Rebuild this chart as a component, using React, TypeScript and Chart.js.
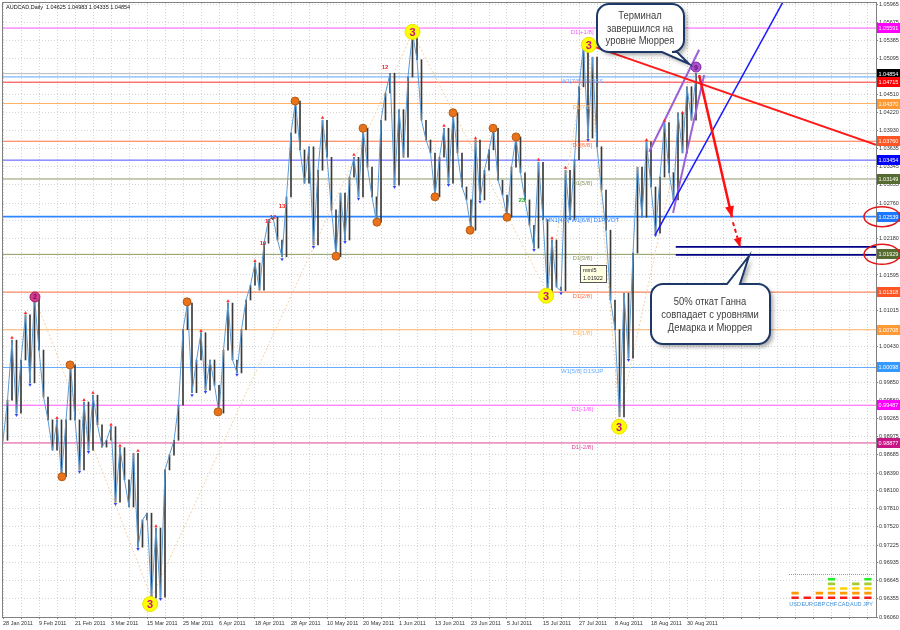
import React, { useEffect, useRef } from 'react';
import { Chart, registerables } from 'chart.js';

Chart.register(...registerables);

// ---------------- data ----------------
const symbolTitle = 'AUDCAD,Daily';
const headerOHLC = [1.04625, 1.04983, 1.04335, 1.04854];

const dateLabels = [
  '28 Jan 2011', '9 Feb 2011', '21 Feb 2011', '3 Mar 2011', '15 Mar 2011', '25 Mar 2011',
  '6 Apr 2011', '18 Apr 2011', '28 Apr 2011', '10 May 2011', '20 May 2011', '1 Jun 2011',
  '13 Jun 2011', '23 Jun 2011', '5 Jul 2011', '15 Jul 2011', '27 Jul 2011', '8 Aug 2011',
  '18 Aug 2011', '30 Aug 2011',
];
const dateLabelStep = 8;

const closes = [
  0.9892, 0.9957, 1.0054, 0.9936, 1.0022, 1.0095, 0.9985, 1.0124, 1.0038, 0.9962,
  0.9925, 0.9876, 0.9925, 0.9833, 0.9925, 1.0014, 0.9925, 0.9844, 0.9954, 0.9876,
  0.9965, 0.9917, 0.9881, 0.9892, 0.9914, 0.9792, 0.9880, 0.9828, 0.9784, 0.9871,
  0.9719, 0.9763, 0.9774, 0.9637, 0.9750, 0.9638, 0.9844, 0.9868, 0.9892, 0.9949,
  1.0071, 1.0114, 0.9969, 1.0022, 1.0066, 0.9973, 1.0022, 0.9981, 0.9936, 1.0038,
  1.0114, 1.0022, 1.0001, 1.0071, 1.0119, 1.0143, 1.0179, 1.0135, 1.0211, 1.0249,
  1.0253, 1.0216, 1.0189, 1.0286, 1.0389, 1.0441, 1.0362, 1.0308, 1.0367, 1.0208,
  1.0329, 1.0410, 1.0350, 1.0265, 1.0189, 1.0292, 1.0216, 1.0318, 1.0350, 1.0286,
  1.0397, 1.0334, 1.0286, 1.0245, 1.0410, 1.0454, 1.0486, 1.0305, 1.0427, 1.0350,
  1.0480, 1.0551, 1.0508, 1.0410, 1.0378, 1.0357, 1.0286, 1.0350, 1.0397, 1.0308,
  1.0422, 1.0357, 1.0302, 1.0281, 1.0232, 1.0378, 1.0281, 1.0329, 1.0362, 1.0397,
  1.0313, 1.0289, 1.0253, 1.0334, 1.0383, 1.0325, 1.0281, 1.0240, 1.0203, 1.0342,
  1.0249, 1.0130, 1.0216, 1.0140, 1.0134, 1.0329, 1.0249, 1.0346, 1.0464, 1.0532,
  1.0381, 1.0512, 1.0367, 1.0297, 1.0232, 1.0119, 1.0071, 0.9930, 1.0130, 1.0025,
  1.0195, 1.0334, 1.0253, 1.0375, 1.0302, 1.0227, 1.0318, 1.0406, 1.0325, 1.0281,
  1.0422, 1.0357, 1.0464, 1.0410, 1.04854,
];

const priceTicks = [
  1.05965, 1.05675, 1.05385, 1.05095, 1.04805, 1.04510, 1.04220, 1.03930, 1.03635,
  1.03345, 1.03055, 1.02760, 1.02470, 1.02180, 1.01885, 1.01595, 1.01305, 1.01015,
  1.00720, 1.00430, 1.00140, 0.99850, 0.99560, 0.99265, 0.98975, 0.98685, 0.98390,
  0.98100, 0.97810, 0.97520, 0.97225, 0.96935, 0.96645, 0.96355, 0.96060,
];

const levelValues = [
  1.05591, 1.04800, 1.04715, 1.04370, 1.03760, 1.03454, 1.03149, 1.02539,
  1.01929, 1.01318, 1.00708, 1.00098, 0.99487, 0.98877,
];
const levelNames = [
  'D1[+1/8]', 'W1[7/8] D1RES', '', 'D1[7/8]', 'D1[6/8]', '', 'D1[5/8]',
  'MN1[4/8] W1[6/8] D1PIVOT', 'D1[3/8]', 'D1[2/8]', 'D1[1/8]', 'W1[5/8] D1SUP',
  'D1[-1/8]', 'D1[-2/8]',
];
const levelLineColors = [
  '#ff55ff', '#66aaff', '#ff3030', '#ffb366', '#ff7040', '#5050ff', '#8c9a64',
  '#2f86ff', '#8c9a64', '#ff7040', '#ffb366', '#66aaff', '#ff55ff', '#dd4499',
];
const levelTagColors = [
  '#ff00ff', '#3399ff', '#ff0000', '#ff9933', '#ff5522', '#0000ff', '#556b2f',
  '#1e78ff', '#556b2f', '#ff5522', '#ff9933', '#3399ff', '#ff00ff', '#c71585',
];
const levelNameIndex = 128.7;
const circledLevels = [1.02539, 1.01929];

const currentPrice = 1.04854;
const navyLevels = [1.0205, 1.0192];
const navyStart = 149.5;

const redTrendX = [130.2, 194];
const redTrendY = [1.0532, 1.0370];
const blueTrendX = [144.9, 173.3];
const blueTrendY = [1.0224, 1.0601];
const purpleUpperX = [143.6, 154.7];
const purpleUpperY = [1.0359, 1.0524];
const purpleLowerX = [148.9, 155.8];
const purpleLowerY = [1.0260, 1.0483];
const redArrowX = [154.7, 162.0];
const redArrowY = [1.0483, 1.0253];
const dashArrowX = [162.2, 163.8];
const dashArrowY = [1.0245, 1.0205];

const zigzagX = [7, 33, 91, 121, 130, 137, 154];
const zigzagY = [1.0124, 0.9637, 1.0551, 1.0130, 1.0532, 0.9930, 1.0498];

const yellowX = [32.7, 91, 120.7, 130.2, 136.9];
const yellowY = [0.9627, 1.0553, 1.0126, 1.0532, 0.9914];
const pinkX = [7.1];
const pinkY = [1.0124];
const violetX = [154];
const violetY = [1.0496];

const orangeX = [13.1, 14.9, 40.9, 47.8, 64.9, 74, 80, 83.1, 96, 100, 103.8, 108.9, 112, 114];
const orangeY = [0.9833, 1.0014, 1.0116, 0.9938, 1.0441, 1.0190, 1.0397, 1.0245, 1.0286, 1.0422, 1.0232, 1.0397, 1.0253, 1.0383];

const highMarkX = [2, 5, 12, 18, 20, 24, 26, 30, 34, 44, 50, 56, 71, 78, 98, 105, 119, 122, 125, 143, 147, 151];
const highMarkY = [1.0058, 1.0098, 0.9928, 0.9957, 0.9969, 0.9917, 0.9883, 0.9875, 0.9753, 1.0069, 1.0117, 1.0182, 1.0414, 1.0354, 1.0401, 1.0381, 1.0346, 1.0219, 1.0333, 1.0378, 1.0409, 1.0422];
const lowMarkX = [3, 6, 17, 19, 25, 30, 35, 42, 45, 52, 62, 69, 76, 79, 87, 99, 106, 118, 124, 130, 139, 145];
const lowMarkY = [0.9933, 0.9982, 0.9841, 0.9873, 0.9789, 0.9716, 0.9635, 0.9965, 0.9970, 0.9998, 1.0185, 1.0205, 1.0213, 1.0283, 1.0302, 1.0305, 1.0278, 1.0200, 1.0130, 1.0378, 1.0022, 1.0224];

const countTexts = ['10', '11', '12', '13', '12'];
const countX = [57.8, 58.9, 60.0, 62.0, 84.9];
const countY = [1.0211, 1.0247, 1.0253, 1.0270, 1.0495];
const greenCountText = '23';
const greenCountX = 115.3;
const greenCountY = 1.0281;

const calloutTopLines = ['Терминал', 'завершился на', 'уровне Мюррея'];
const calloutBottomLines = ['50% откат Ганна', 'совпадает с уровнями', 'Демарка и Мюррея'];
const mmlLines = ['mml5', '1.01922'];

const meterCurrencies = ['USD', 'EUR', 'GBP', 'CHF', 'CAD', 'AUD', 'JPY'];
const meterLevels = [2, 1, 2, 5, 3, 4, 5];
const meterColors = ['#ff1a1a', '#ff9900', '#ffd000', '#a6cc33', '#22ee22'];

// ---------------- helpers ----------------
const FONT = '"Liberation Sans", Arial, sans-serif';

const pts = (xs: number[], ys: number[]) => xs.map((x, i) => ({ x, y: ys[i] }));

function lineDs(data: any[], color: string, width: number, order: number, extra: any = {}) {
  return {
    type: 'line', data, borderColor: color, backgroundColor: color, borderWidth: width,
    pointRadius: 0, tension: 0, fill: false, order, ...extra,
  };
}

function pointDs(data: any[], bg: string, border: string, radius: number, order: number, extra: any = {}) {
  return {
    type: 'line', data, showLine: false, pointRadius: radius, pointBackgroundColor: bg,
    pointBorderColor: border, pointBorderWidth: 1, order, ...extra,
  };
}

function arrowHead(ctx: any, x0: number, y0: number, x1: number, y1: number, len: number, half: number, color: string) {
  const a = Math.atan2(y1 - y0, x1 - x0);
  const bx = x1 - len * Math.cos(a);
  const by = y1 - len * Math.sin(a);
  ctx.beginPath();
  ctx.moveTo(x1, y1);
  ctx.lineTo(bx + half * Math.sin(a), by - half * Math.cos(a));
  ctx.lineTo(bx - half * Math.sin(a), by + half * Math.cos(a));
  ctx.closePath();
  ctx.fillStyle = color;
  ctx.fill();
}

function callout(ctx: any, box: number[], r: number, tail: number[], side: 'top' | 'bottom', lines: string[], cx: number, y0: number, dy: number) {
  const [x0, yT, x1, yB] = box;
  const [b1, b2, tx, ty] = tail;
  ctx.save();
  ctx.beginPath();
  ctx.moveTo(x0 + r, yT);
  if (side === 'top') { ctx.lineTo(b1, yT); ctx.lineTo(tx, ty); ctx.lineTo(b2, yT); }
  ctx.lineTo(x1 - r, yT);
  ctx.arcTo(x1, yT, x1, yT + r, r);
  ctx.lineTo(x1, yB - r);
  ctx.arcTo(x1, yB, x1 - r, yB, r);
  if (side === 'bottom') { ctx.lineTo(b2, yB); ctx.lineTo(tx, ty); ctx.lineTo(b1, yB); }
  ctx.lineTo(x0 + r, yB);
  ctx.arcTo(x0, yB, x0, yB - r, r);
  ctx.lineTo(x0, yT + r);
  ctx.arcTo(x0, yT, x0 + r, yT, r);
  ctx.closePath();
  ctx.shadowColor = 'rgba(0,0,0,0.35)';
  ctx.shadowBlur = 4;
  ctx.shadowOffsetX = 3;
  ctx.shadowOffsetY = 3;
  ctx.fillStyle = '#ffffff';
  ctx.fill();
  ctx.shadowColor = 'transparent';
  ctx.lineWidth = 2;
  ctx.strokeStyle = '#1d3866';
  ctx.stroke();
  ctx.fillStyle = '#404040';
  ctx.font = `11.5px ${FONT}`;
  ctx.textAlign = 'center';
  ctx.textBaseline = 'middle';
  lines.forEach((t, i) => {
    ctx.save();
    ctx.translate(cx, y0 + i * dy);
    ctx.scale(0.82, 1);
    ctx.fillText(t, 0, 0);
    ctx.restore();
  });
  ctx.restore();
}

const overlayPlugin = {
  id: 'overlay',
  afterDatasetsDraw(chart: any) {
    const { ctx, chartArea: ca } = chart;
    const xs = chart.scales.x;
    const ys = chart.scales.y;
    const px = (v: number) => xs.getPixelForValue(v);
    const py = (v: number) => ys.getPixelForValue(v);
    ctx.save();
    ctx.beginPath();
    ctx.rect(ca.left, ca.top, ca.right - ca.left, ca.bottom - ca.top);
    ctx.clip();

    // level names
    ctx.font = `6px ${FONT}`;
    ctx.textAlign = 'center';
    ctx.textBaseline = 'top';
    levelValues.forEach((v, k) => {
      if (!levelNames[k]) return;
      ctx.fillStyle = levelLineColors[k];
      ctx.fillText(levelNames[k], px(levelNameIndex), py(v) + 1);
    });

    // arrow heads
    arrowHead(ctx, px(redArrowX[0]), py(redArrowY[0]), px(redArrowX[1]), py(redArrowY[1]), 11, 4.5, '#ff1010');
    arrowHead(ctx, px(dashArrowX[0]), py(dashArrowY[0]), px(dashArrowX[1]), py(dashArrowY[1]), 9, 4, '#ff1010');

    // numbers in circles
    ctx.textAlign = 'center';
    ctx.textBaseline = 'middle';
    ctx.font = `bold 11px ${FONT}`;
    ctx.fillStyle = '#c8107a';
    yellowX.forEach((xv, k) => ctx.fillText('3', px(xv), py(yellowY[k]) + 1));
    ctx.font = `bold 7px ${FONT}`;
    ctx.fillStyle = '#7a1050';
    pinkX.forEach((xv, k) => ctx.fillText('2', px(xv), py(pinkY[k]) + 0.5));
    ctx.fillStyle = '#5a1070';
    violetX.forEach((xv, k) => ctx.fillText('9', px(xv), py(violetY[k]) + 0.5));

    // small count labels
    ctx.font = `bold 6px ${FONT}`;
    ctx.fillStyle = '#ff2020';
    countTexts.forEach((t, k) => ctx.fillText(t, px(countX[k]), py(countY[k])));
    ctx.fillStyle = '#22aa22';
    ctx.fillText(greenCountText, px(greenCountX), py(greenCountY));

    // mml5 tooltip box
    ctx.fillStyle = '#ffffe1';
    ctx.fillRect(580.5, 265.5, 26, 17);
    ctx.strokeStyle = '#555555';
    ctx.lineWidth = 1;
    ctx.strokeRect(580.5, 265.5, 26, 17);
    ctx.fillStyle = '#222222';
    ctx.font = `5.5px ${FONT}`;
    ctx.textAlign = 'left';
    ctx.fillText(mmlLines[0], 583, 270);
    ctx.fillText(mmlLines[1], 583, 278.5);
    ctx.restore();
  },
  afterDraw(chart: any) {
    const { ctx, chartArea: ca } = chart;
    const ys = chart.scales.y;
    const py = (v: number) => ys.getPixelForValue(v);
    ctx.save();
    // frame
    ctx.strokeStyle = '#808080';
    ctx.lineWidth = 1;
    ctx.strokeRect(ca.left - 0.5, ca.top - 0.5, ca.right - ca.left + 1, ca.bottom - ca.top + 1);

    // price tags
    ctx.font = `5.5px ${FONT}`;
    ctx.textAlign = 'left';
    ctx.textBaseline = 'middle';
    const tag = (v: number, bg: string) => {
      const y = py(v);
      ctx.fillStyle = bg;
      ctx.fillRect(ca.right + 1, Math.round(y) - 5, 23, 10);
      ctx.fillStyle = '#ffffff';
      ctx.fillText(v.toFixed(5), ca.right + 2.5, Math.round(y) + 0.5);
    };
    levelValues.forEach((v, k) => { if (k !== 2) tag(v, levelTagColors[k]); });
    tag(currentPrice, '#000000');
    tag(levelValues[2], levelTagColors[2]);

    // ellipses
    ctx.strokeStyle = '#e01818';
    ctx.lineWidth = 1.5;
    circledLevels.forEach((v) => {
      ctx.beginPath();
      ctx.ellipse(ca.right + 6, py(v), 18, 10, 0, 0, Math.PI * 2);
      ctx.stroke();
    });

    // callouts
    callout(ctx, [597, 4, 684, 52], 12, [662, 677, 689, 64], 'bottom', calloutTopLines, 640, 16, 12.5);
    callout(ctx, [651, 284, 770, 344], 12, [727, 740, 749, 256], 'top', calloutBottomLines, 710, 302, 13);

    // header
    ctx.fillStyle = '#111111';
    ctx.font = `5.5px ${FONT}`;
    ctx.textAlign = 'left';
    ctx.textBaseline = 'middle';
    ctx.fillText(`${symbolTitle}  ${headerOHLC.map((v) => v.toFixed(5)).join(' ')}`, 6, 7.5);
    ctx.restore();
  },
};

function buildMainConfig(): any {
  const priceLine = closes.map((c, i) => ({ x: i, y: c }));
  const bars = closes.map((c, i) => ({ x: i, y: [i === 0 ? c : closes[i - 1], c] }));
  const datasets: any[] = [];
  levelValues.forEach((v, k) => {
    datasets.push(lineDs([{ x: 0, y: v }, { x: 194, y: v }], levelLineColors[k], k === 7 ? 1.6 : 1, 20));
  });
  datasets.push(lineDs([{ x: 0, y: currentPrice }, { x: 194, y: currentPrice }], '#b8b8b8', 1, 19));
  datasets.push(lineDs(pts(zigzagX, zigzagY), '#f0d2a6', 1, 15, { borderDash: [2, 2] }));
  navyLevels.forEach((v) => datasets.push(lineDs([{ x: navyStart, y: v }, { x: 194, y: v }], '#000088', 1.6, 6)));
  datasets.push({ type: 'bar', data: bars, backgroundColor: '#3a3a3a', barThickness: 1, order: 9 });
  datasets.push(lineDs(priceLine, '#5b9bd5', 1, 8));
  datasets.push(lineDs(pts(redTrendX, redTrendY), '#ff1a1a', 2, 5));
  datasets.push(lineDs(pts(blueTrendX, blueTrendY), '#1a1aff', 1.5, 5));
  datasets.push(lineDs(pts(purpleUpperX, purpleUpperY), '#9b5fd6', 2, 5));
  datasets.push(lineDs(pts(purpleLowerX, purpleLowerY), '#9b5fd6', 2, 5));
  datasets.push(lineDs(pts(redArrowX, redArrowY), '#ff1010', 2.5, 4));
  datasets.push(lineDs(pts(dashArrowX, dashArrowY), '#ff1010', 2, 4, { borderDash: [4, 3] }));
  datasets.push(pointDs(pts(highMarkX, highMarkY), '#ff2a2a', '#ff2a2a', 2, 3, { pointStyle: 'triangle', pointBorderWidth: 0 }));
  datasets.push(pointDs(pts(lowMarkX, lowMarkY), '#3344ff', '#3344ff', 2, 3, { pointStyle: 'triangle', pointRotation: 180, pointBorderWidth: 0 }));
  datasets.push(pointDs(pts(orangeX, orangeY), '#e8731a', '#b85a10', 4, 2));
  datasets.push(pointDs(pts(yellowX, yellowY), '#ffff00', '#e6e600', 7.5, 1));
  datasets.push(pointDs(pts(pinkX, pinkY), '#d43a8e', '#a02060', 5, 1));
  datasets.push(pointDs(pts(violetX, violetY), '#b050d0', '#7a2a9a', 5, 1));

  return {
    type: 'line',
    data: { datasets },
    options: {
      animation: false,
      responsive: false,
      devicePixelRatio: 1,
      events: [],
      layout: { autoPadding: false, padding: { left: 3, top: 3, right: 0, bottom: 0 } },
      plugins: { legend: { display: false }, tooltip: { enabled: false } },
      scales: {
        x: {
          type: 'linear', min: 0, max: 194, offset: false, position: 'bottom',
          afterBuildTicks: (s: any) => {
            const t = [];
            for (let v = 0; v <= 192; v += 4) t.push({ value: v });
            s.ticks = t;
          },
          afterFit: (s: any) => { s.height = 13; s.paddingLeft = 0; s.paddingRight = 0; },
          ticks: {
            autoSkip: false, maxRotation: 0, minRotation: 0, align: 'start', padding: 1,
            color: '#333333', font: { size: 5.5, family: FONT },
            callback: (v: number) => (v % dateLabelStep === 0 && v / dateLabelStep < dateLabels.length ? dateLabels[v / dateLabelStep] : ''),
          },
          grid: { color: '#d4d4d4', tickColor: '#808080', tickLength: 2, offset: false },
          border: { display: false, dash: [1, 2] },
        },
        y: {
          type: 'linear', position: 'right', min: 0.9606, max: 1.05997, beginAtZero: false,
          afterBuildTicks: (s: any) => { s.ticks = priceTicks.map((v) => ({ value: v })); },
          afterFit: (s: any) => { s.width = 24; s.paddingTop = 0; s.paddingBottom = 0; },
          ticks: {
            autoSkip: false, padding: 1, color: '#333333', font: { size: 5.5, family: FONT },
            callback: (v: number) => Number(v).toFixed(5),
          },
          grid: { color: '#d4d4d4', tickColor: '#808080', tickLength: 2 },
          border: { display: false, dash: [1, 2] },
        },
      },
    },
    plugins: [overlayPlugin],
  };
}

const meterPlugin = {
  id: 'meterLine',
  afterDraw(chart: any) {
    const { ctx, chartArea: ca } = chart;
    ctx.save();
    ctx.strokeStyle = '#9a9a9a';
    ctx.setLineDash([1, 1]);
    ctx.beginPath();
    ctx.moveTo(ca.left, ca.top - 1.5);
    ctx.lineTo(ca.right, ca.top - 1.5);
    ctx.stroke();
    ctx.restore();
  },
};

function buildMeterConfig(): any {
  return {
    type: 'bar',
    data: {
      labels: meterCurrencies,
      datasets: meterColors.map((col, k) => ({
        data: meterLevels.map((l) => (l > k ? 1 : 0)),
        backgroundColor: col, borderColor: '#ffffff', borderWidth: 1, borderSkipped: false,
        barPercentage: 0.85, categoryPercentage: 0.9,
      })),
    },
    options: {
      animation: false, responsive: false, devicePixelRatio: 1, events: [],
      layout: { autoPadding: false, padding: { left: 3, right: 2, top: 6, bottom: 0 } },
      plugins: { legend: { display: false }, tooltip: { enabled: false } },
      scales: {
        x: {
          stacked: true,
          afterFit: (s: any) => { s.height = 10; },
          ticks: { color: '#3f8fd6', font: { size: 5.5, family: FONT }, padding: 1, maxRotation: 0, minRotation: 0, autoSkip: false },
          grid: { display: false, drawTicks: false }, border: { display: false },
        },
        y: { stacked: true, display: false, min: 0, max: 5.2 },
      },
    },
    plugins: [meterPlugin],
  };
}

export default function App() {
  const mainRef = useRef<HTMLCanvasElement | null>(null);
  const meterRef = useRef<HTMLCanvasElement | null>(null);

  useEffect(() => {
    const c1 = mainRef.current;
    const c2 = meterRef.current;
    if (!c1 || !c2) return;
    const main = new Chart(c1, buildMainConfig());
    const meter = new Chart(c2, buildMeterConfig());
    return () => { main.destroy(); meter.destroy(); };
  }, []);

  return (
    <div style={{ position: 'fixed', left: 0, top: 0, width: 900, height: 630, background: '#ffffff', overflow: 'hidden' }}>
      <canvas ref={mainRef} width={900} height={630} style={{ position: 'absolute', left: 0, top: 0, width: 900, height: 630 }} />
      <canvas ref={meterRef} width={90} height={40} style={{ position: 'absolute', left: 786, top: 570, width: 90, height: 40 }} />
    </div>
  );
}
